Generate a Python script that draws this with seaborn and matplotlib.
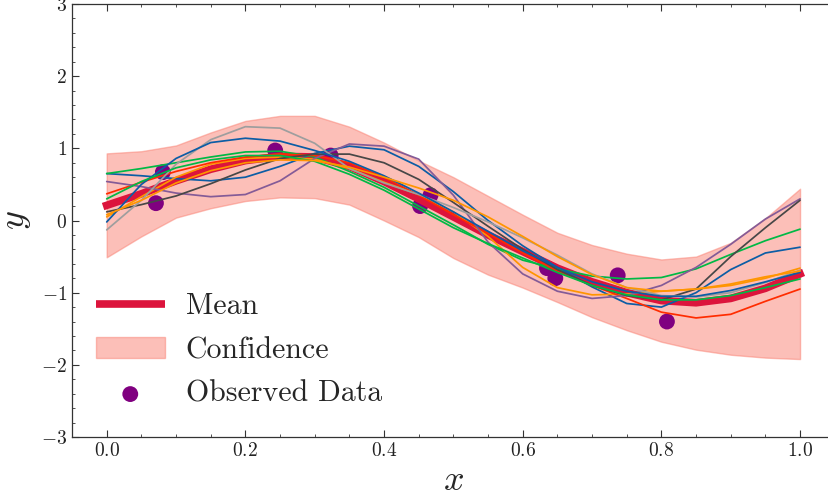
import numpy as np
import pandas as pd
import matplotlib
matplotlib.use("Agg")
import matplotlib.pyplot as plt
import seaborn as sns
from matplotlib.ticker import MultipleLocator

# ---- data ----
x_grid = [0.00, 0.05, 0.10, 0.15, 0.20, 0.25, 0.30, 0.35, 0.40, 0.45, 0.50,
          0.55, 0.60, 0.65, 0.70, 0.75, 0.80, 0.85, 0.90, 0.95, 1.00]

mean = [0.21, 0.37, 0.55, 0.71, 0.83, 0.89, 0.88, 0.75, 0.54, 0.30, 0.05,
        -0.20, -0.43, -0.66, -0.85, -1.00, -1.11, -1.14, -1.08, -0.94, -0.74]
upper = [0.93, 0.96, 1.04, 1.22, 1.38, 1.45, 1.45, 1.30, 1.08, 0.83, 0.60,
         0.34, 0.08, -0.17, -0.34, -0.46, -0.54, -0.50, -0.31, 0.03, 0.44]
lower = [-0.51, -0.22, 0.04, 0.17, 0.27, 0.32, 0.31, 0.22, 0.00, -0.23, -0.52,
         -0.75, -0.93, -1.13, -1.34, -1.52, -1.68, -1.79, -1.86, -1.90, -1.92]

sample_blue1 = [0.65, 0.62, 0.58, 0.55, 0.60, 0.75, 0.93, 1.03, 0.98, 0.75, 0.40,
                0.00, -0.35, -0.65, -0.92, -1.15, -1.20, -1.00, -0.68, -0.45, -0.37]
sample_green1 = [0.65, 0.72, 0.80, 0.88, 0.95, 0.96, 0.88, 0.68, 0.46, 0.20, -0.06,
                 -0.33, -0.55, -0.67, -0.77, -0.81, -0.79, -0.67, -0.47, -0.28, -0.12]
sample_orange1 = [0.05, 0.33, 0.60, 0.78, 0.86, 0.88, 0.85, 0.72, 0.53, 0.36, 0.12,
                  -0.22, -0.65, -0.93, -1.03, -1.02, -0.98, -0.95, -0.90, -0.80, -0.66]
sample_red = [0.37, 0.53, 0.68, 0.80, 0.88, 0.92, 0.90, 0.80, 0.60, 0.35, 0.08,
              -0.18, -0.45, -0.70, -0.90, -1.08, -1.27, -1.35, -1.30, -1.12, -0.95]
sample_purple = [0.54, 0.47, 0.38, 0.33, 0.36, 0.55, 0.86, 1.06, 1.03, 0.85, 0.35,
                 -0.30, -0.74, -0.98, -1.08, -1.04, -0.90, -0.65, -0.33, 0.02, 0.30]
sample_darkgray = [0.12, 0.22, 0.34, 0.51, 0.70, 0.86, 0.92, 0.92, 0.80, 0.57, 0.25,
                   -0.08, -0.40, -0.68, -0.90, -1.04, -1.10, -0.95, -0.50, -0.10, 0.28]
sample_gray = [-0.13, 0.28, 0.78, 1.12, 1.30, 1.28, 1.07, 0.72, 0.52, 0.36, 0.18,
               -0.02, -0.24, -0.48, -0.74, -0.93, -1.04, -1.06, -1.00, -0.86, -0.69]
sample_blue2 = [-0.02, 0.50, 0.86, 1.08, 1.14, 1.10, 0.97, 0.82, 0.62, 0.38, 0.12,
                -0.15, -0.42, -0.65, -0.85, -0.98, -1.05, -1.05, -0.97, -0.85, -0.72]
sample_green2 = [0.30, 0.54, 0.73, 0.84, 0.90, 0.90, 0.82, 0.64, 0.42, 0.16, -0.10,
                 -0.32, -0.52, -0.72, -0.90, -1.03, -1.10, -1.10, -1.04, -0.93, -0.81]
sample_orange2 = [0.08, 0.28, 0.52, 0.69, 0.80, 0.84, 0.83, 0.74, 0.60, 0.45, 0.28,
                  0.05, -0.22, -0.50, -0.75, -0.93, -0.98, -0.95, -0.88, -0.78, -0.70]

samples = [sample_blue1, sample_green1, sample_orange1, sample_red, sample_purple,
           sample_darkgray, sample_gray, sample_blue2, sample_green2, sample_orange2]
sample_colors = ["#0C5DA5", "#00B945", "#FF9500", "#FF2C00", "#845B97",
                 "#474747", "#9e9e9e", "#0C5DA5", "#00B945", "#FF9500"]

obs_x = [0.071, 0.081, 0.243, 0.323, 0.452, 0.467, 0.635, 0.647, 0.737, 0.808]
obs_y = [0.24, 0.67, 0.97, 0.90, 0.20, 0.35, -0.66, -0.80, -0.76, -1.40]

# ---- style ----
sns.set_style("ticks")
plt.rcParams.update({
    "font.family": ["cmr10", "DejaVu Serif"],
    "mathtext.fontset": "cm",
    "axes.formatter.use_mathtext": True,
    "xtick.direction": "in",
    "ytick.direction": "in",
    "xtick.top": True,
    "ytick.right": True,
    "xtick.major.size": 5,
    "ytick.major.size": 5,
    "xtick.minor.size": 2.5,
    "ytick.minor.size": 2.5,
    "xtick.major.width": 0.8,
    "ytick.major.width": 0.8,
    "xtick.minor.width": 0.6,
    "ytick.minor.width": 0.6,
    "axes.linewidth": 0.9,
    "axes.edgecolor": "#333333",
    "xtick.color": "#333333",
    "ytick.color": "#333333",
    "xtick.labelcolor": "#222222",
    "ytick.labelcolor": "#222222",
})

fig = plt.figure(figsize=(8.29, 5.0), dpi=100)
ax = fig.add_axes([0.0869, 0.126, 0.920, 0.866])

ax.fill_between(x_grid, lower, upper, color="salmon", alpha=0.5, label="Confidence", lw=1.0)
sns.lineplot(x=x_grid, y=mean, ax=ax, color="crimson", lw=5.5, label="Mean",
             solid_capstyle="projecting")
for s, c in zip(samples, sample_colors):
    sns.lineplot(x=x_grid, y=s, ax=ax, color=c, lw=1.25, legend=False)
sns.scatterplot(x=obs_x, y=obs_y, ax=ax, color="purple", s=130, edgecolor="none",
                label="Observed Data", zorder=1.5)

ax.set_xlim(-0.05, 1.05)
ax.set_ylim(-3, 3)
ax.xaxis.set_major_locator(MultipleLocator(0.2))
ax.xaxis.set_minor_locator(MultipleLocator(0.05))
ax.yaxis.set_major_locator(MultipleLocator(1))
ax.yaxis.set_minor_locator(MultipleLocator(0.2))
ax.tick_params(which="both", labelsize=14)
ax.set_xlabel("$x$", fontsize=26, labelpad=4)
ax.set_ylabel("$y$", fontsize=26, labelpad=6)

h, l = ax.get_legend_handles_labels()
order = [l.index("Mean"), l.index("Confidence"), l.index("Observed Data")]
leg = ax.legend([h[i] for i in order], [l[i] for i in order], loc="lower left",
                bbox_to_anchor=(0.0, 0.012), fontsize=21.5, frameon=False,
                handlelength=2.3, labelspacing=0.55, borderaxespad=0.4,
                handletextpad=0.7)
leg.get_lines()[0].set_solid_capstyle("butt")

fig.savefig("out.png", dpi=100)
